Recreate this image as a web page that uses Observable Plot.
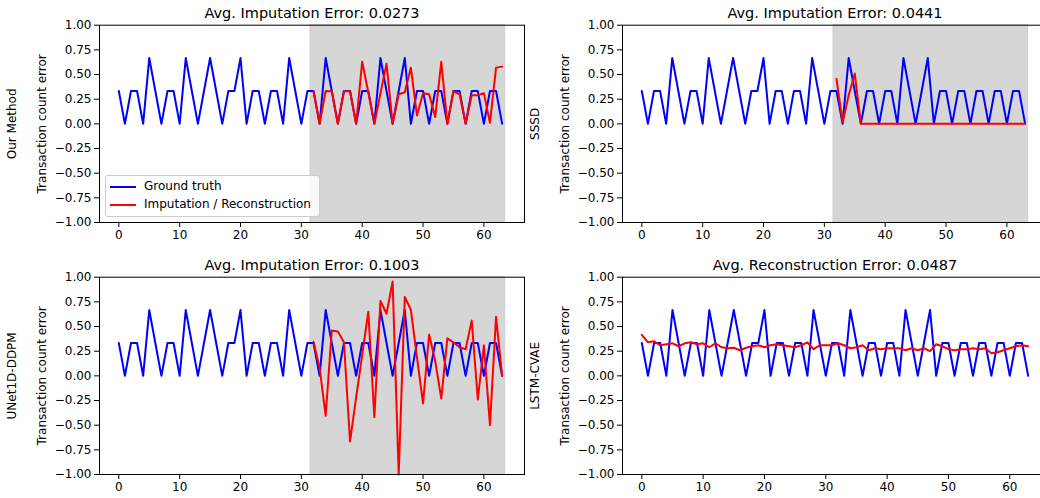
<!DOCTYPE html>
<html>
<head>
<meta charset="utf-8">
<script src="https://cdn.jsdelivr.net/npm/d3@7"></script>
<script src="https://cdn.jsdelivr.net/npm/@observablehq/plot@0.6"></script>
<style>
html, body { margin: 0; padding: 0; overflow: hidden; background: #fff; }
#root { position: relative; width: 1040px; height: 498px; overflow: hidden; font-family: "DejaVu Sans", sans-serif; }
.panel { position: absolute; }
.legend { position: absolute; left: 105px; top: 175px; width: 213px; height: 40px; border: 1px solid #cccccc; border-radius: 3px; background: rgba(255,255,255,0.85); font-size: 12px; color: #000; }
.legend .row { position: absolute; left: 0; height: 16px; }
.legend .sw { position: absolute; left: 4px; width: 26px; height: 2px; }
.legend .lb { position: absolute; left: 38px; white-space: nowrap; }
</style>
</head>
<body>
<div id="root"></div>
<script>
// ---- data ----
const steps = d3.range(64);
const groundTruth = [0.333,0,0.333,0.333,0,0.667,0.333,0,0.333,0.333,0,0.667,0.333,0,0.333,0.667,
  0.333,0,0.333,0.333,0.667,0,0.333,0.333,0,0.333,0.333,0,0.667,0.333,0,0.333,
  0.333,0,0.667,0.333,0,0.333,0.333,0,0.333,0.333,0,0.667,0.333,0,0.333,0.667,
  0,0.333,0.333,0,0.333,0.333,0,0.333,0.333,0,0.333,0.333,0,0.333,0.333,0];
const imputedSteps = d3.range(32, 64);
const ourMethod = [0.333,0,0.333,0.33,0,0.33,0.33,0,0.63,0.32,0,0.31,0.61,0,0.30,0.32,
  0.57,0.085,0.31,0.30,0.07,0.63,0,0.33,0.30,0,0.29,0.29,0.31,0.01,0.57,0.58];
const sssd = [0.456,0.017,0.29,0.51,0,0,0,0,0,0,0,0,0,0,0,0,
  0,0,0,0,0,0,0,0,0,0,0,0,0,0,0,0];
const unetDDPM = [0.345,0.08,-0.405,0.46,0.45,0.34,-0.665,-0.22,0.21,0.65,-0.42,0.76,0.63,0.956,-1.0,0.80,
  0.67,0.19,-0.28,0.42,0.15,-0.23,0.38,0.34,0.29,0.27,0.56,-0.24,0.31,-0.50,0.60,0.0];
const lstmCVAE = [0.415,0.34,0.35,0.31,0.32,0.33,0.30,0.33,0.34,0.32,0.33,0.29,0.33,0.29,0.28,0.285,
  0.26,0.285,0.30,0.31,0.29,0.31,0.32,0.31,0.30,0.29,0.31,0.34,0.27,0.31,0.31,0.31,
  0.33,0.31,0.28,0.29,0.31,0.26,0.28,0.27,0.28,0.28,0.28,0.26,0.28,0.26,0.28,0.25,
  0.32,0.30,0.27,0.26,0.27,0.27,0.28,0.27,0.28,0.23,0.24,0.26,0.28,0.30,0.31,0.30];
const shadeRegion = [{x1: 31.5, x2: 63.5}];
const titles = ["Avg. Imputation Error: 0.0273", "Avg. Imputation Error: 0.0441",
  "Avg. Imputation Error: 0.1003", "Avg. Reconstruction Error: 0.0487"];
const models = ["Our Method", "SSSD", "UNet1D-DDPM", "LSTM-CVAE"];
const yLabel = "Transaction count error";
const xTicks = [0, 10, 20, 30, 40, 50, 60];
const yTicks = [-1, -0.75, -0.5, -0.25, 0, 0.25, 0.5, 0.75, 1];

// ---- layout ----
const AX_W = 425, AX_H = 197.3;
const ML = 99, MR = 6, MT = 24.7, MB = 28;
const root = document.getElementById("root");

function panel({axLeft, axTop, xDomain, shaded, redX, redY, title, model}) {
  const gt = steps.map((x, i) => ({x, y: groundTruth[i]}));
  const rd = redX.map((x, i) => ({x, y: redY[i]}));
  const marks = [];
  if (shaded) marks.push(Plot.rect(shadeRegion, {x1: "x1", x2: "x2", fill: "#d6d6d6", stroke: "#cfcfcf", strokeWidth: 1}));
  marks.push(
    Plot.line(gt, {x: "x", y: "y", stroke: "#0000ff", strokeWidth: 2}),
    Plot.line(rd, {x: "x", y: "y", stroke: "#ff0000", strokeWidth: 2}),
    Plot.frame({stroke: "#000", strokeWidth: 1}),
    Plot.axisX({ticks: xTicks, tickSize: 5, tickPadding: 3, label: null, fontSize: 12}),
    Plot.axisY({ticks: yTicks, tickFormat: d3.format(".2f"), tickSize: 5, tickPadding: 3, label: null, fontSize: 12}),
    Plot.text([title], {text: d => d, frameAnchor: "top", dy: -7, lineAnchor: "bottom", fontSize: 14.5, fill: "#000"}),
    Plot.text([yLabel], {text: d => d, frameAnchor: "left", dx: -57, rotate: -90, lineAnchor: "middle", textAnchor: "middle", fontSize: 12, fill: "#000"}),
    Plot.text([model], {text: d => d, frameAnchor: "left", dx: -87, rotate: -90, lineAnchor: "middle", textAnchor: "middle", fontSize: 12, fill: "#000"})
  );
  const chart = Plot.plot({
    width: ML + AX_W + MR,
    height: MT + AX_H + MB,
    marginLeft: ML, marginRight: MR, marginTop: MT, marginBottom: MB,
    x: {domain: xDomain},
    y: {domain: [-1, 1]},
    style: {background: "transparent", overflow: "visible", maxWidth: "none", fontFamily: "DejaVu Sans, sans-serif", fontSize: "12px", color: "#000"},
    marks
  });
  const div = document.createElement("div");
  div.className = "panel";
  div.style.left = (axLeft - ML) + "px";
  div.style.top = (axTop - MT) + "px";
  div.appendChild(chart);
  root.appendChild(div);
}

const shadedDomain = [-3.175, 66.675];
const plainDomain = [-3.15, 66.15];

panel({axLeft: 99, axTop: 24.7, xDomain: shadedDomain, shaded: true, redX: imputedSteps, redY: ourMethod, title: titles[0], model: models[0]});
panel({axLeft: 622, axTop: 24.7, xDomain: shadedDomain, shaded: true, redX: imputedSteps, redY: sssd, title: titles[1], model: models[1]});
panel({axLeft: 99, axTop: 276.7, xDomain: shadedDomain, shaded: true, redX: imputedSteps, redY: unetDDPM, title: titles[2], model: models[2]});
panel({axLeft: 622, axTop: 276.7, xDomain: plainDomain, shaded: false, redX: steps, redY: lstmCVAE, title: titles[3], model: models[3]});

// legend (top-left panel)
const lg = document.createElement("div");
lg.className = "legend";
lg.innerHTML = `
  <div class="row" style="top:2px;width:100%"><div class="sw" style="top:8px;background:#0000ff"></div><div class="lb" style="top:1px">Ground truth</div></div>
  <div class="row" style="top:20px;width:100%"><div class="sw" style="top:8px;background:#ff0000"></div><div class="lb" style="top:1px">Imputation / Reconstruction</div></div>`;
root.appendChild(lg);
</script>
</body>
</html>
